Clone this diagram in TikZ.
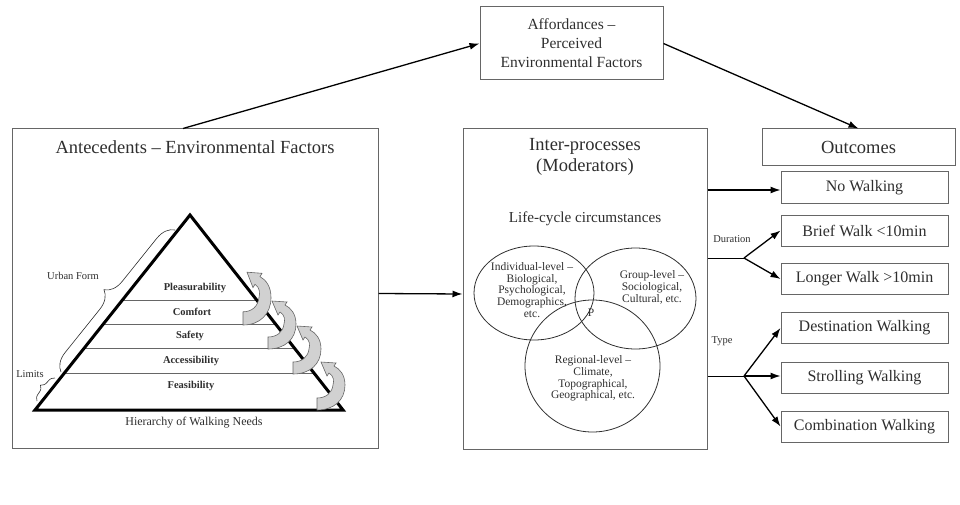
\documentclass[tikz,border=0pt]{standalone}
\usepackage{fontspec}
\setmainfont{Liberation Serif}
\usetikzlibrary{arrows.meta,calc,decorations.pathreplacing}
\colorlet{ink}{black!82}
\colorlet{frame}{black!60}

\begin{document}
\begin{tikzpicture}[x=1pt,y=-1pt,
    box/.style={draw=frame,line width=1pt,text=ink,inner sep=0pt,align=center},
    outbox/.style={box,minimum width=167,minimum height=31,font=\fontsize{16}{19}\selectfont},
    lbl/.style={text=ink,inner sep=0pt,font=\fontsize{10.5}{12}\selectfont},
    lvl/.style={text=ink,inner sep=0pt,font=\bfseries\fontsize{10.5}{12}\selectfont},
    venn/.style={text=ink,inner sep=0pt,align=center,font=\fontsize{11.5}{11.8}\selectfont},
    arr/.style={line width=1.3pt,-{Latex[length=10pt,width=7pt]}},
    curl/.pic={\filldraw[fill=black!18,draw=black!60,line width=0.6pt]
      (0,0) .. controls (17,0) and (28,-10) .. (28,-25) .. controls (28,-35) and (23,-41) .. (17,-44)
      -- (19,-47) -- (4,-48) -- (10,-34) -- (12,-37)
      .. controls (17,-34) and (17,-29) .. (16,-25) .. controls (15,-17) and (9,-12) .. (0,-12) -- cycle;}
  ]
  \useasboundingbox (0,0) rectangle (960,505);

  % main boxes
  \node[box,minimum width=366,minimum height=319] (ante) at (195,288.5) {};
  \node[box,minimum width=244,minimum height=320] (inter) at (585,289) {};
  \node[box,minimum width=183,minimum height=73,font=\fontsize{15.5}{19}\selectfont] (afford) at (571.5,43.5)
    {Affordances --\\Perceived\\Environmental Factors};
  \node[box,minimum width=193,minimum height=37,font=\fontsize{18.5}{21}\selectfont] (outc) at (858.5,147.5) {Outcomes};

  \node[lbl,font=\fontsize{18.5}{21}\selectfont] (antetitle) at (195,147) {Antecedents -- Environmental Factors};
  \node[lbl,align=center,font=\fontsize{18.5}{21}\selectfont] (intertitle) at (585,156.5) {Inter-processes\\(Moderators)};
  \node[lbl,font=\fontsize{15.2}{18}\selectfont] (life) at (585,219) {Life-cycle circumstances};

  % pyramid
  \coordinate (apex) at (190,215);
  \coordinate (bl) at (35,410);
  \coordinate (br) at (343,410);
  \foreach \t in {0.564,0.436,0.313,0.185}
    \draw[frame,line width=1pt] ($(bl)!\t!(apex)$) -- ($(br)!\t!(apex)$);
  \draw[line width=3pt] (bl) -- (apex) -- (br) -- cycle;
  \pic[yscale=1.1] at (243,325) {curl};
  \pic at (268,349) {curl};
  \pic at (293,374) {curl};
  \pic at (317,410) {curl};

  \node[lvl] (pleas) at (195,288) {Pleasurability};
  \node[lvl] (comf) at (192,312) {Comfort};
  \node[lvl] (safe) at (190,336) {Safety};
  \node[lvl] (acc) at (191,361) {Accessibility};
  \node[lvl] (feas) at (191,386) {Feasibility};
  \node[lbl,font=\fontsize{12}{14}\selectfont] (hier) at (194,423) {Hierarchy of Walking Needs};

  \draw[ink,line width=0.6pt,decorate,decoration={brace,amplitude=18pt}] (61,372) -- (175,230);
  \draw[ink,line width=0.6pt,decorate,decoration={brace,amplitude=7pt}] (37,401) -- (55,378);
  \node[lbl] (urban) at (73,276) {Urban Form};
  \node[lbl] (limits) at (30,374) {Limits};

  % venn
  \draw[ink,line width=0.8pt] (534,293) ellipse [x radius=60,y radius=47];
  \draw[ink,line width=0.8pt] (635.5,298.5) ellipse [x radius=60.5,y radius=50.5];
  \draw[ink,line width=0.8pt] (592.5,366) ellipse [x radius=67.5,y radius=66];
  \node[venn] (indiv) at (532,290) {Individual-level --\\Biological,\\Psychological,\\Demographics,\\etc.};
  \node[venn] (group) at (652,287.5) {Group-level --\\Sociological,\\Cultural, etc.};
  \node[venn] (region) at (593,378.5) {Regional-level --\\Climate,\\Topographical,\\Geographical, etc.};
  \node[venn] (p) at (591,313) {P};

  % outcomes
  \node[outbox] (nowalk) at (864.5,187.5) {No Walking};
  \node[outbox] (brief) at (864.5,230.5) {Brief Walk <10min};
  \node[outbox] (longer) at (864.5,279) {Longer Walk >10min};
  \node[outbox] (dest) at (864.5,328) {Destination Walking};
  \node[outbox] (stroll) at (864.5,377.5) {Strolling Walking};
  \node[outbox] (comb) at (864.5,426.5) {Combination Walking};

  \coordinate (dur) at (744,258);
  \coordinate (typ) at (744,376);
  \node[lbl] (durlbl) at (732,239) {Duration};
  \node[lbl] (typlbl) at (722,341) {Type};

  % connectors
  \draw[arr] ([xshift=-12pt]ante.north) -- (afford.west);
  \draw[arr] (afford.east) -- (outc.north);
  \draw[arr] ([yshift=-5pt]ante.east) -- ([yshift=-5pt]inter.west);
  \draw[arr] (inter.east |- 0,190) -- (nowalk.west |- 0,190);
  \draw[line width=1pt] (inter.east |- dur) -- (dur);
  \draw[arr] (dur) -- (brief.west);
  \draw[arr] (dur) -- (longer.west);
  \draw[line width=1pt] (inter.east |- typ) -- (typ);
  \draw[arr] (typ) -- (dest.west);
  \draw[arr] (typ) -- (typ -| stroll.west);
  \draw[arr] (typ) -- (comb.west);
\end{tikzpicture}
\end{document}
